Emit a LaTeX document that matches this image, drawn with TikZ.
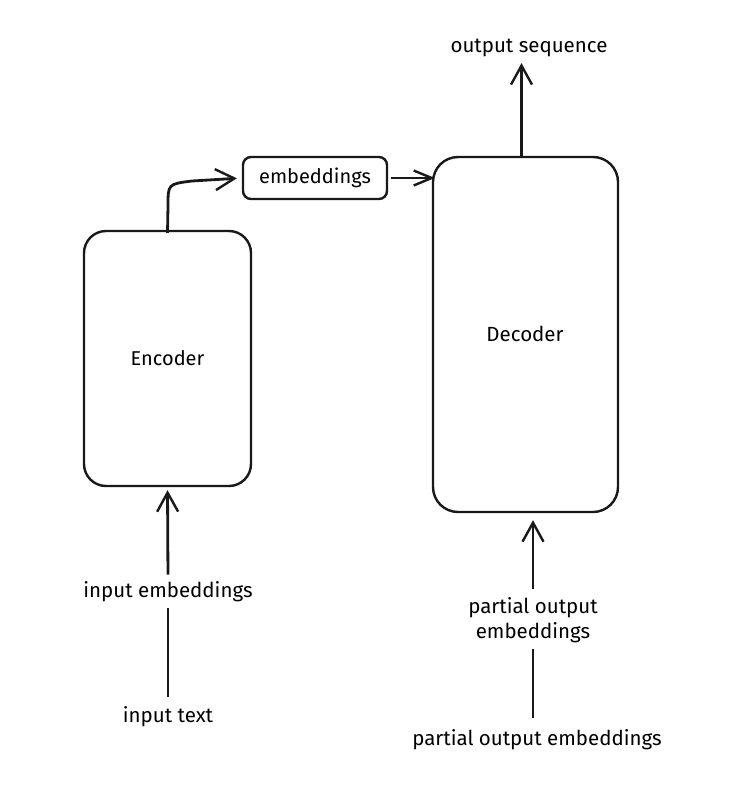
\documentclass[tikz,border=0pt]{standalone}
\usepackage{fontspec}
\setmainfont{Fira Sans}
\usetikzlibrary{arrows.meta,calc}
\begin{document}
\begin{tikzpicture}[x=1pt,y=-1pt,
  box/.style={draw=black!90,line width=2.4pt,rounded corners=22pt,inner sep=0pt,font=\fontsize{20}{24}\selectfont},
  lbl/.style={font=\fontsize{20.5}{25}\selectfont,inner sep=2pt,align=center},
  conn/.style={draw=black!90,line width=2.8pt,-{Straight Barb[length=19pt,width=21pt,line width=2.4pt]}},
  plain/.style={draw=black!90,line width=2.8pt}]
\useasboundingbox[fill=white] (0,0) rectangle (751,795);
\node[box,minimum width=167pt,minimum height=255pt] (encoder) at (167.5,358.5) {Encoder};
\node[box,minimum width=185pt,minimum height=355pt,rounded corners=25pt] (decoder) at (525.5,334.5) {};
\node[lbl] (dectext) at (525,334) {Decoder};
\node[box,minimum width=144pt,minimum height=42pt,rounded corners=8pt] (embeddings) at (315,178) {embeddings};
\node[lbl] (output) at (529,48) {output sequence};
\node[lbl] (intext) at (168,717) {input text};
\node[lbl] (inemb) at (168,592) {input embeddings};
\node[lbl] (ptext) at (537,740) {partial output embeddings};
\node[lbl] (pemb) at (533,620) {partial output\\embeddings};
\coordinate (bendA) at (168,206);
\coordinate (bendB) at (192,181);
% encoder -> embeddings
\draw[conn,shorten >=5pt] ([yshift=-3pt]encoder.north) -- (bendA) .. controls (168,184) .. (bendB) -- (embeddings.west);
% embeddings -> decoder
\draw[conn,-{Straight Barb[length=18pt,width=15pt,line width=2.4pt]},shorten <=3pt,shorten >=-3pt] (embeddings.east) -- (decoder.west |- embeddings.east);
% decoder -> output
\draw[conn,shorten >=4pt] ([xshift=-4pt,yshift=-2pt]decoder.north) -- ([xshift=-4pt]decoder.north |- output.south);
% input text -> input embeddings -> encoder
\draw[plain,shorten <=8pt,shorten >=4pt] (intext.north) -- (inemb.south);
\draw[conn,shorten <=5pt,shorten >=3pt] (inemb.north) -- (encoder.south);
% partial output -> decoder
\draw[plain,shorten <=10pt,shorten >=4pt] ([xshift=-4pt]ptext.north) -- (pemb.south);
\draw[conn,shorten <=6pt,shorten >=7pt] (pemb.north) -- (pemb.north |- decoder.south);
\end{tikzpicture}
\end{document}
